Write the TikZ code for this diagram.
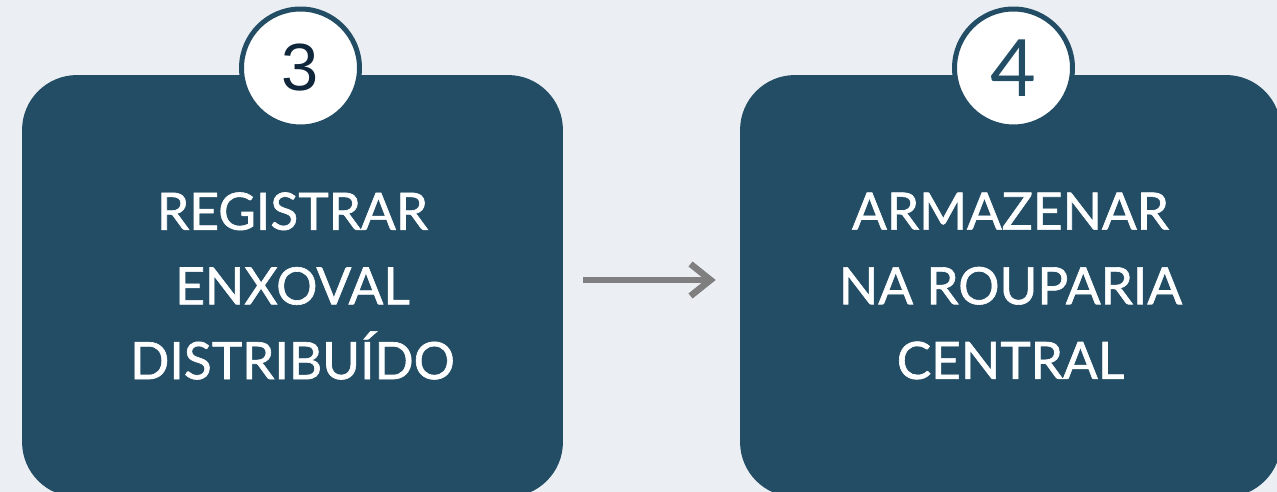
\documentclass[tikz,border=0pt]{standalone}
\usepackage{fontspec}
\setmainfont{Lato}
\newfontfamily\boxfont[FakeBold=1.2]{Lato}
\newfontfamily\digitfont{Liberation Sans}
\usetikzlibrary{arrows.meta}
\definecolor{pagebg}{HTML}{EBEEF3}
\definecolor{stepblue}{HTML}{224D65}
\definecolor{darknavy}{HTML}{10263A}
\definecolor{arrowgray}{HTML}{7F7F7F}
\begin{document}
\begin{tikzpicture}[x=0.02cm,y=-0.02cm,
        stepbox/.style={fill=stepblue,rounded corners=1.1cm,inner sep=0pt,
            minimum width=10.82cm,minimum height=8.44cm,text=white,align=center,
            font=\boxfont\fontsize{29.3}{42.5}\selectfont},
        badge/.style={circle,fill=white,draw=stepblue,line width=0.1cm,
            minimum size=2.36cm,inner sep=0pt}]
        \useasboundingbox (0,0) rectangle (1277,492);
        \fill[pagebg] (0,0) rectangle (1277,492);
        \clip (0,0) rectangle (1277,492);
        \node[stepbox] (register) at (292.5,286)
            {REGISTRAR\\ENXOVAL\\DISTRIBUÍDO};
        \node[stepbox] (store) at (1010.5,286)
            {ARMAZENAR\\NA ROUPARIA\\CENTRAL};
        \node[badge,text=darknavy,font=\digitfont\fontsize{38}{38}\selectfont]
            (three) at (300.5,68) {3};
        \node[badge,text=stepblue,font=\fontsize{45}{45}\selectfont]
            (four) at (1013.5,68) {4};
        \draw[arrowgray,line width=0.13cm,shorten <=0.4cm,shorten >=0.48cm,
            -{Straight Barb[length=0.4cm,width=0.64cm]}]
            ([yshift=0.12cm]register.east) -- ([yshift=0.12cm]store.west);
    \end{tikzpicture}
\end{document}
